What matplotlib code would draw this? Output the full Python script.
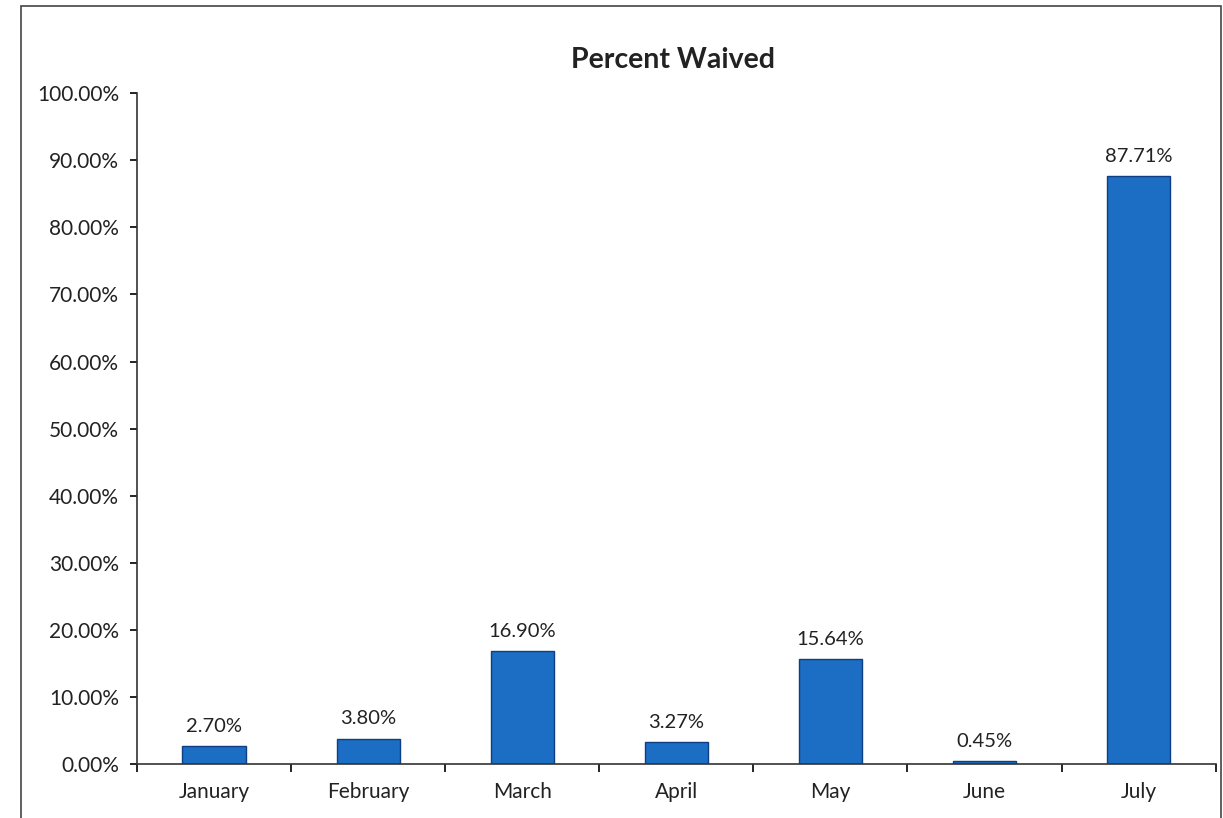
import matplotlib.pyplot as plt
from matplotlib.patches import Rectangle
from matplotlib.ticker import FuncFormatter

# data
months = ['January', 'February', 'March', 'April', 'May', 'June', 'July']
pct_waived = [2.70, 3.80, 16.90, 3.27, 15.64, 0.45, 87.71]
yticks = [0, 10, 20, 30, 40, 50, 60, 70, 80, 90, 100]

plt.rcParams['font.family'] = ['Lato', 'DejaVu Sans']

fig = plt.figure(figsize=(12.23, 8.18), dpi=100)
ax = fig.add_axes([0.112, 0.066, 0.882, 0.820])

x = range(len(months))
ax.bar(x, pct_waived, width=0.41, color='#1c6dc4', edgecolor='#0e3f84', linewidth=1.0)

for i, v in zip(x, pct_waived):
    ax.annotate(f'{v:.2f}%', (i, v), xytext=(0, 8), textcoords='offset points',
                ha='center', va='bottom', fontsize=14.5, color='#222222')

ax.set_xlim(-0.5, len(months) - 0.5)
ax.set_ylim(0, 100)
ax.set_yticks(yticks)
ax.yaxis.set_major_formatter(FuncFormatter(lambda v, p: f'{v:.2f}%'))

# ticks sit on category boundaries, labels in the middle
ax.set_xticks([i - 0.5 for i in range(len(months) + 1)])
ax.set_xticklabels([])
ax.set_xticks(list(x), minor=True)
ax.set_xticklabels(months, minor=True)
ax.tick_params(axis='x', which='major', length=6, width=1.2, direction='out')
ax.tick_params(axis='x', which='minor', length=0, pad=13, labelsize=15, labelcolor='#222222')
ax.tick_params(axis='y', length=5, width=1.2, direction='out', pad=8, labelsize=15, labelcolor='#222222')

for s in ['top', 'right']:
    ax.spines[s].set_visible(False)
for s in ['left', 'bottom']:
    ax.spines[s].set_linewidth(1.2)
    ax.spines[s].set_color('#333333')

fig.text(0.55, 0.927, 'Percent Waived', ha='center', va='center',
         fontsize=20.5, fontweight='bold', color='#222222')

# chart frame, bottom edge runs off the page
frame = Rectangle((21 / 1223, -0.02), 1200 / 1223, 1.02 - 6 / 818,
                  transform=fig.transFigure, fill=False, edgecolor='#444444',
                  linewidth=1.2, clip_on=False)
fig.patches.append(frame)

fig.savefig('out.png', dpi=100)
